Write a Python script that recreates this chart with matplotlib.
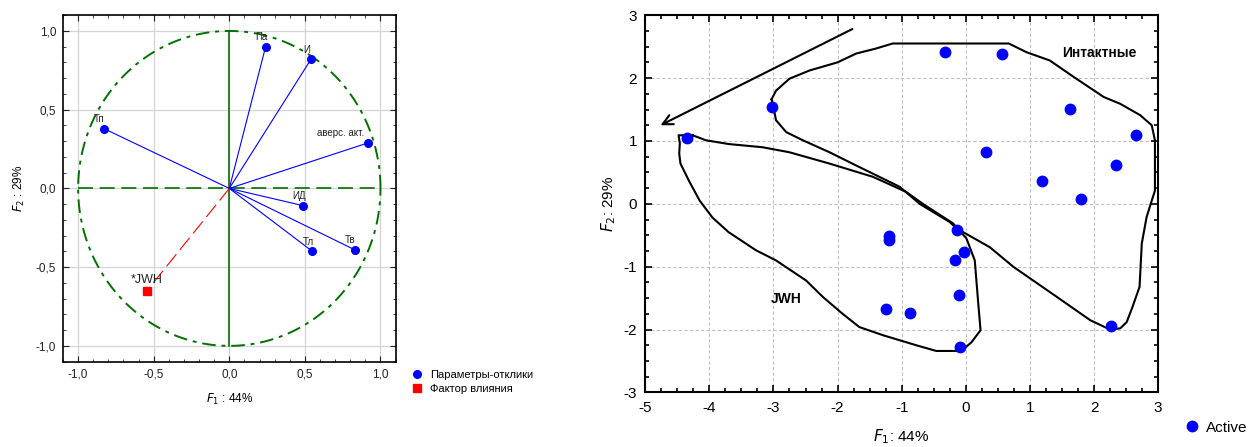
import numpy as np
import matplotlib.pyplot as plt
from matplotlib.ticker import MultipleLocator, FixedLocator, FixedFormatter

plt.rcParams['font.family'] = ['Liberation Sans', 'DejaVu Sans']
plt.rcParams['axes.unicode_minus'] = False

# left panel: factor loadings
par_names = ['Па', 'И', 'Тп', 'аверс. акт.', 'ИД', 'Тл', 'Тв']
par_x = [0.24, 0.54, -0.83, 0.92, 0.49, 0.55, 0.83]
par_y = [0.90, 0.82, 0.38, 0.29, -0.11, -0.40, -0.39]
factor_name = '*JWH'
factor_x = -0.545
factor_y = -0.65
left_ticks = [-1.0, -0.5, 0.0, 0.5, 1.0]
left_ticklabels = ['-1,0', '-0,5', '0,0', '0,5', '1,0']

# right panel: scores
act_x = [-4.35, -3.03, -0.32, 0.57, 1.62, 2.66, 0.32, 2.35, 1.19, 1.80,
         -0.14, -1.20, -1.20, -0.03, -0.17, -0.11, -1.245, -0.875, -0.09, 2.26]
act_y = [1.05, 1.54, 2.42, 2.39, 1.51, 1.10, 0.82, 0.61, 0.36, 0.08,
         -0.42, -0.51, -0.58, -0.77, -0.89, -1.45, -1.67, -1.74, -2.28, -1.95]

intact_x = [-3.03, -2.96, -2.75, -2.44, -2.0, -1.71, -1.40, -1.14, 0.67, 0.95, 1.31,
            1.68, 2.15, 2.41, 2.72, 2.90, 2.95, 2.95, 2.90, 2.82, 2.745, 2.71, 2.60,
            2.51, 2.41, 2.25, 1.94, 1.42, 0.74, 0.375, -0.145, -0.25, -0.72, -1.03,
            -1.71, -2.125, -2.54, -2.80, -2.96, -3.0, -3.03]
intact_y = [1.66, 1.80, 1.99, 2.12, 2.25, 2.39, 2.47, 2.55, 2.55, 2.41, 2.28,
            2.02, 1.70, 1.59, 1.41, 1.25, 1.01, 0.21, 0.05, -0.21, -0.63, -1.32, -1.64,
            -1.88, -1.98, -2.0, -1.85, -1.48, -1.00, -0.69, -0.39, -0.29, 0.0, 0.27,
            0.61, 0.82, 1.01, 1.14, 1.33, 1.54, 1.66]

jwh_x = [-4.26, -4.05, -3.69, -3.17, -2.75, -2.125, -1.45, -0.93, -0.67, -0.20, 0.01,
         0.14, 0.19, 0.23, 0.09, -0.07, -0.46, -0.77, -1.29, -1.66, -1.92, -2.23,
         -2.49, -2.96, -3.27, -3.70, -3.95, -4.15, -4.32, -4.45, -4.47, -4.46, -4.48, -4.26]
jwh_y = [1.09, 1.01, 0.95, 0.90, 0.82, 0.64, 0.43, 0.19, 0.0, -0.31, -0.55,
         -0.90, -1.53, -2.01, -2.20, -2.34, -2.34, -2.25, -2.09, -1.96, -1.75, -1.48,
         -1.22, -0.90, -0.74, -0.45, -0.22, 0.05, 0.37, 0.64, 0.80, 0.96, 1.09, 1.09]

fig = plt.figure(figsize=(12.48, 4.47), dpi=100)

# ---- left
ax1 = fig.add_axes([0.0505, 0.191, 0.2665, 0.775])
t = np.linspace(0, 2 * np.pi, 400)
ax1.plot(np.cos(t), np.sin(t), color='#007000', lw=1.4, linestyle=(0, (7, 3, 2, 3)), zorder=2)
ax1.plot([-1, 1], [0, 0], color='#007000', lw=1.2, linestyle=(0, (9, 4)), zorder=2)
ax1.plot([0, 0], [-1, 1], color='#007000', lw=1.2, zorder=2)
for n, x, y in zip(par_names, par_x, par_y):
    ax1.plot([0, x], [0, y], color='blue', lw=0.8, zorder=3)
    ax1.text(x - 0.03, y + 0.03, n, fontsize=7, ha='right' if n == 'аверс. акт.' else 'center',
             va='bottom', color='#222222', zorder=5)
ax1.plot([0, factor_x], [0, factor_y], color='red', lw=0.8, linestyle=(0, (14, 5)), zorder=3)
ax1.text(factor_x - 0.11, factor_y + 0.03, factor_name, fontsize=9, va='bottom', color='#222222')
ax1.plot(par_x, par_y, 'o', color='blue', ms=5.5, zorder=4, linestyle='none',
         label='Параметры-отклики')
ax1.plot([factor_x], [factor_y], 's', color='red', ms=6, zorder=4, linestyle='none',
         label='Фактор влияния')
ax1.set_xlim(-1.1, 1.1)
ax1.set_ylim(-1.1, 1.1)
for axis in (ax1.xaxis, ax1.yaxis):
    axis.set_major_locator(FixedLocator(left_ticks))
    axis.set_major_formatter(FixedFormatter(left_ticklabels))
    axis.set_minor_locator(MultipleLocator(0.1))
ax1.grid(True, color='#d4d4d4', lw=0.9)
ax1.set_axisbelow(True)
ax1.tick_params(which='both', direction='in', top=True, right=True, labelsize=8.5, colors='#222222')
ax1.tick_params(which='major', length=4, pad=5)
ax1.tick_params(which='minor', length=2)
for s in ax1.spines.values():
    s.set_linewidth(1.2)
ax1.set_xlabel(r'$F_1$ : 44%', fontsize=8.5, labelpad=8)
ax1.set_ylabel(r'$F_2$ : 29%', fontsize=8.5, labelpad=6)
h, l = ax1.get_legend_handles_labels()
fig.legend(h, l, loc='upper left', bbox_to_anchor=(0.322, 0.195), frameon=False, fontsize=8,
           handletextpad=0.6, labelspacing=0.35, handlelength=1.0)

# ---- right
ax2 = fig.add_axes([0.517, 0.122, 0.411, 0.844])
ax2.plot(intact_x, intact_y, color='black', lw=1.5, zorder=3)
ax2.plot(jwh_x, jwh_y, color='black', lw=1.5, zorder=3)
ax2.plot(act_x, act_y, 'o', color='blue', ms=7.5, linestyle='none', zorder=4, label='Active')
ax2.annotate('', xy=(-4.80, 1.23), xytext=(-1.73, 2.80),
             arrowprops=dict(arrowstyle='->', color='black', lw=1.5, mutation_scale=18))
ax2.text(1.5, 2.4, 'Интактные', fontsize=10, fontweight='bold', va='center', ha='left')
ax2.text(-3.04, -1.52, 'JWH', fontsize=10, fontweight='bold', va='center', ha='left')
ax2.set_xlim(-5, 3)
ax2.set_ylim(-3, 3)
ax2.xaxis.set_major_locator(MultipleLocator(1))
ax2.yaxis.set_major_locator(MultipleLocator(1))
ax2.xaxis.set_minor_locator(MultipleLocator(0.25))
ax2.yaxis.set_minor_locator(MultipleLocator(0.25))
ax2.grid(True, color='#c0c0c0', lw=0.8, linestyle=(0, (3, 2)))
ax2.set_axisbelow(True)
ax2.tick_params(which='both', direction='in', top=True, right=True, labelsize=11, width=1.2)
ax2.tick_params(which='major', length=5, pad=6)
ax2.tick_params(which='minor', length=3)
for s in ax2.spines.values():
    s.set_linewidth(1.5)
ax2.set_xlabel(r'$F_1$: 44%', fontsize=11, labelpad=9)
ax2.set_ylabel(r'$F_2$: 29%', fontsize=11, labelpad=4)
ax2.legend(loc='upper left', bbox_to_anchor=(0.938, 0.09), bbox_transform=fig.transFigure,
           frameon=False, fontsize=11, handletextpad=0.4, handlelength=1.0)

fig.savefig('out.png', dpi=100)
